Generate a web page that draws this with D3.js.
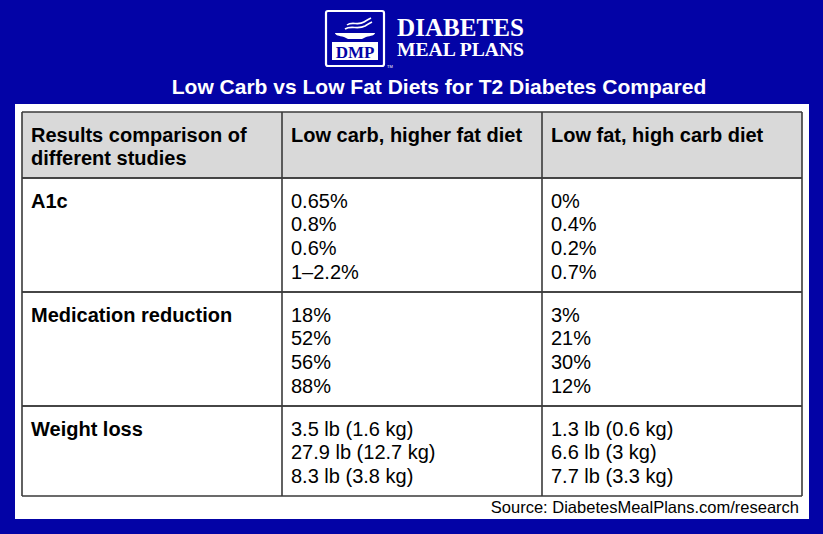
<!DOCTYPE html>
<html>
<head>
<meta charset="utf-8">
<script src="https://cdn.jsdelivr.net/npm/d3@7"></script>
<style>
  html, body { margin: 0; padding: 0; background: #0303a6; }
  svg { display: block; }
</style>
</head>
<body>
<script>
// ---- data ----
const title = "Low Carb vs Low Fat Diets for T2 Diabetes Compared";
const columnHeaders = [
  ["Results comparison of", "different studies"],
  ["Low carb, higher fat diet"],
  ["Low fat, high carb diet"]
];
const rowLabels = ["A1c", "Medication reduction", "Weight loss"];
const lowCarbValues = [
  ["0.65%", "0.8%", "0.6%", "1–2.2%"],
  ["18%", "52%", "56%", "88%"],
  ["3.5 lb (1.6 kg)", "27.9 lb (12.7 kg)", "8.3 lb (3.8 kg)"]
];
const lowFatValues = [
  ["0%", "0.4%", "0.2%", "0.7%"],
  ["3%", "21%", "30%", "12%"],
  ["1.3 lb (0.6 kg)", "6.6 lb (3 kg)", "7.7 lb (3.3 kg)"]
];
const source = "Source: DiabetesMealPlans.com/research";

// ---- layout ----
const W = 823, H = 534;
const BLUE = "#0303a6";
const svg = d3.select("body").append("svg").attr("width", W).attr("height", H);
svg.append("rect").attr("width", W).attr("height", H).attr("fill", BLUE);

// white panel
svg.append("rect").attr("x", 15).attr("y", 104).attr("width", 794).attr("height", 415).attr("fill", "#fff");

// logo
const logo = svg.append("g");
logo.append("rect").attr("x", 326).attr("y", 11).attr("width", 58).attr("height", 55)
  .attr("rx", 2).attr("fill", BLUE).attr("stroke", "#fff").attr("stroke-width", 2.2);
const waves = [
  "M347,25 C352,21 358,26 364,22 C367,20 369,19 371,18",
  "M345,29 C351,25 358,30 365,26 C368,24 370,23 372,22"
];
waves.forEach(d => logo.append("path").attr("d", d).attr("fill", "none").attr("stroke", "#fff").attr("stroke-width", 1.6));
logo.append("path").attr("d", "M335,33 L375,33 C375,35 371,36 366,37 L362,39 L348,39 L344,37 C339,36 335,35 335,33 Z").attr("fill", "#fff");
logo.append("rect").attr("x", 332).attr("y", 42).attr("width", 46).attr("height", 18).attr("fill", "#fff");
logo.append("text").attr("x", 355).attr("y", 58).attr("text-anchor", "middle")
  .attr("font-family", "Liberation Serif, Times New Roman, serif").attr("font-weight", "bold")
  .attr("font-size", 17).attr("fill", BLUE).text("DMP");
logo.append("text").attr("x", 387).attr("y", 68)
  .attr("font-family", "Liberation Sans, Arial, sans-serif").attr("font-size", 4).attr("fill", "#fff").text("TM");
logo.append("text").attr("x", 397).attr("y", 36)
  .attr("font-family", "Liberation Serif, Times New Roman, serif").attr("font-weight", "bold")
  .attr("font-size", 25).attr("fill", "#fff").attr("textLength", 127).attr("lengthAdjust", "spacingAndGlyphs").text("DIABETES");
logo.append("text").attr("x", 397).attr("y", 56)
  .attr("font-family", "Liberation Serif, Times New Roman, serif").attr("font-weight", "bold")
  .attr("font-size", 19).attr("fill", "#fff").attr("textLength", 127).attr("lengthAdjust", "spacingAndGlyphs").text("MEAL PLANS");

// title
svg.append("text").attr("x", 439).attr("y", 94).attr("text-anchor", "middle")
  .attr("font-family", "Liberation Sans, Arial, sans-serif").attr("font-weight", "bold")
  .attr("font-size", 21).attr("fill", "#fff").text(title);

// table scales
const colKeys = [0, 1, 2];
const x = d3.scaleBand().domain(colKeys).range([22, 802]);
const rows = [
  { key: "header", lines: 2 },
  ...rowLabels.map((r, i) => ({ key: r, lines: Math.max(lowCarbValues[i].length, lowFatValues[i].length) }))
];
let acc = 0;
rows.forEach(r => { r.u0 = acc; acc += r.lines + 0.75; r.u1 = acc; });
const y = d3.scaleLinear().domain([0, acc]).range([112, 496]);
const lineStep = 23.7;

const table = svg.append("g");
table.append("rect").attr("x", x(0)).attr("y", y(rows[0].u0))
  .attr("width", x(2) + x.bandwidth() - x(0)).attr("height", y(rows[0].u1) - y(rows[0].u0))
  .attr("fill", "#d9d9d9");

const FONT = "Liberation Sans, Arial, sans-serif";
function cellText(g, lines, col, row, bold) {
  const t = g.append("text").attr("font-family", FONT).attr("font-size", 20)
    .attr("font-weight", bold ? "bold" : "normal").attr("fill", "#000");
  lines.forEach((s, i) => {
    t.append("tspan").attr("x", x(col) + 9)
      .attr("y", y(row.u0) + 29.5 + i * lineStep).text(s);
  });
}
columnHeaders.forEach((h, c) => cellText(table, h, c, rows[0], true));
rowLabels.forEach((r, i) => {
  const row = rows[i + 1];
  cellText(table, [r], 0, row, true);
  cellText(table, lowCarbValues[i], 1, row, false);
  cellText(table, lowFatValues[i], 2, row, false);
});

// grid lines
const gridColor = "#3a3a3a";
rows.forEach(r => {
  [r.u0, r.u1].forEach(u => {
    table.append("line").attr("x1", x(0)).attr("x2", x(2) + x.bandwidth())
      .attr("y1", y(u)).attr("y2", y(u)).attr("stroke", gridColor).attr("stroke-width", 1.6);
  });
});
[...colKeys.map(c => x(c)), x(2) + x.bandwidth()].forEach(xx => {
  table.append("line").attr("x1", xx).attr("x2", xx).attr("y1", y(0)).attr("y2", y(acc))
    .attr("stroke", gridColor).attr("stroke-width", 1.6);
});

// source
svg.append("text").attr("x", 799).attr("y", 513).attr("text-anchor", "end")
  .attr("font-family", FONT).attr("font-size", 16.5).attr("fill", "#000").text(source);
</script>
</body>
</html>
